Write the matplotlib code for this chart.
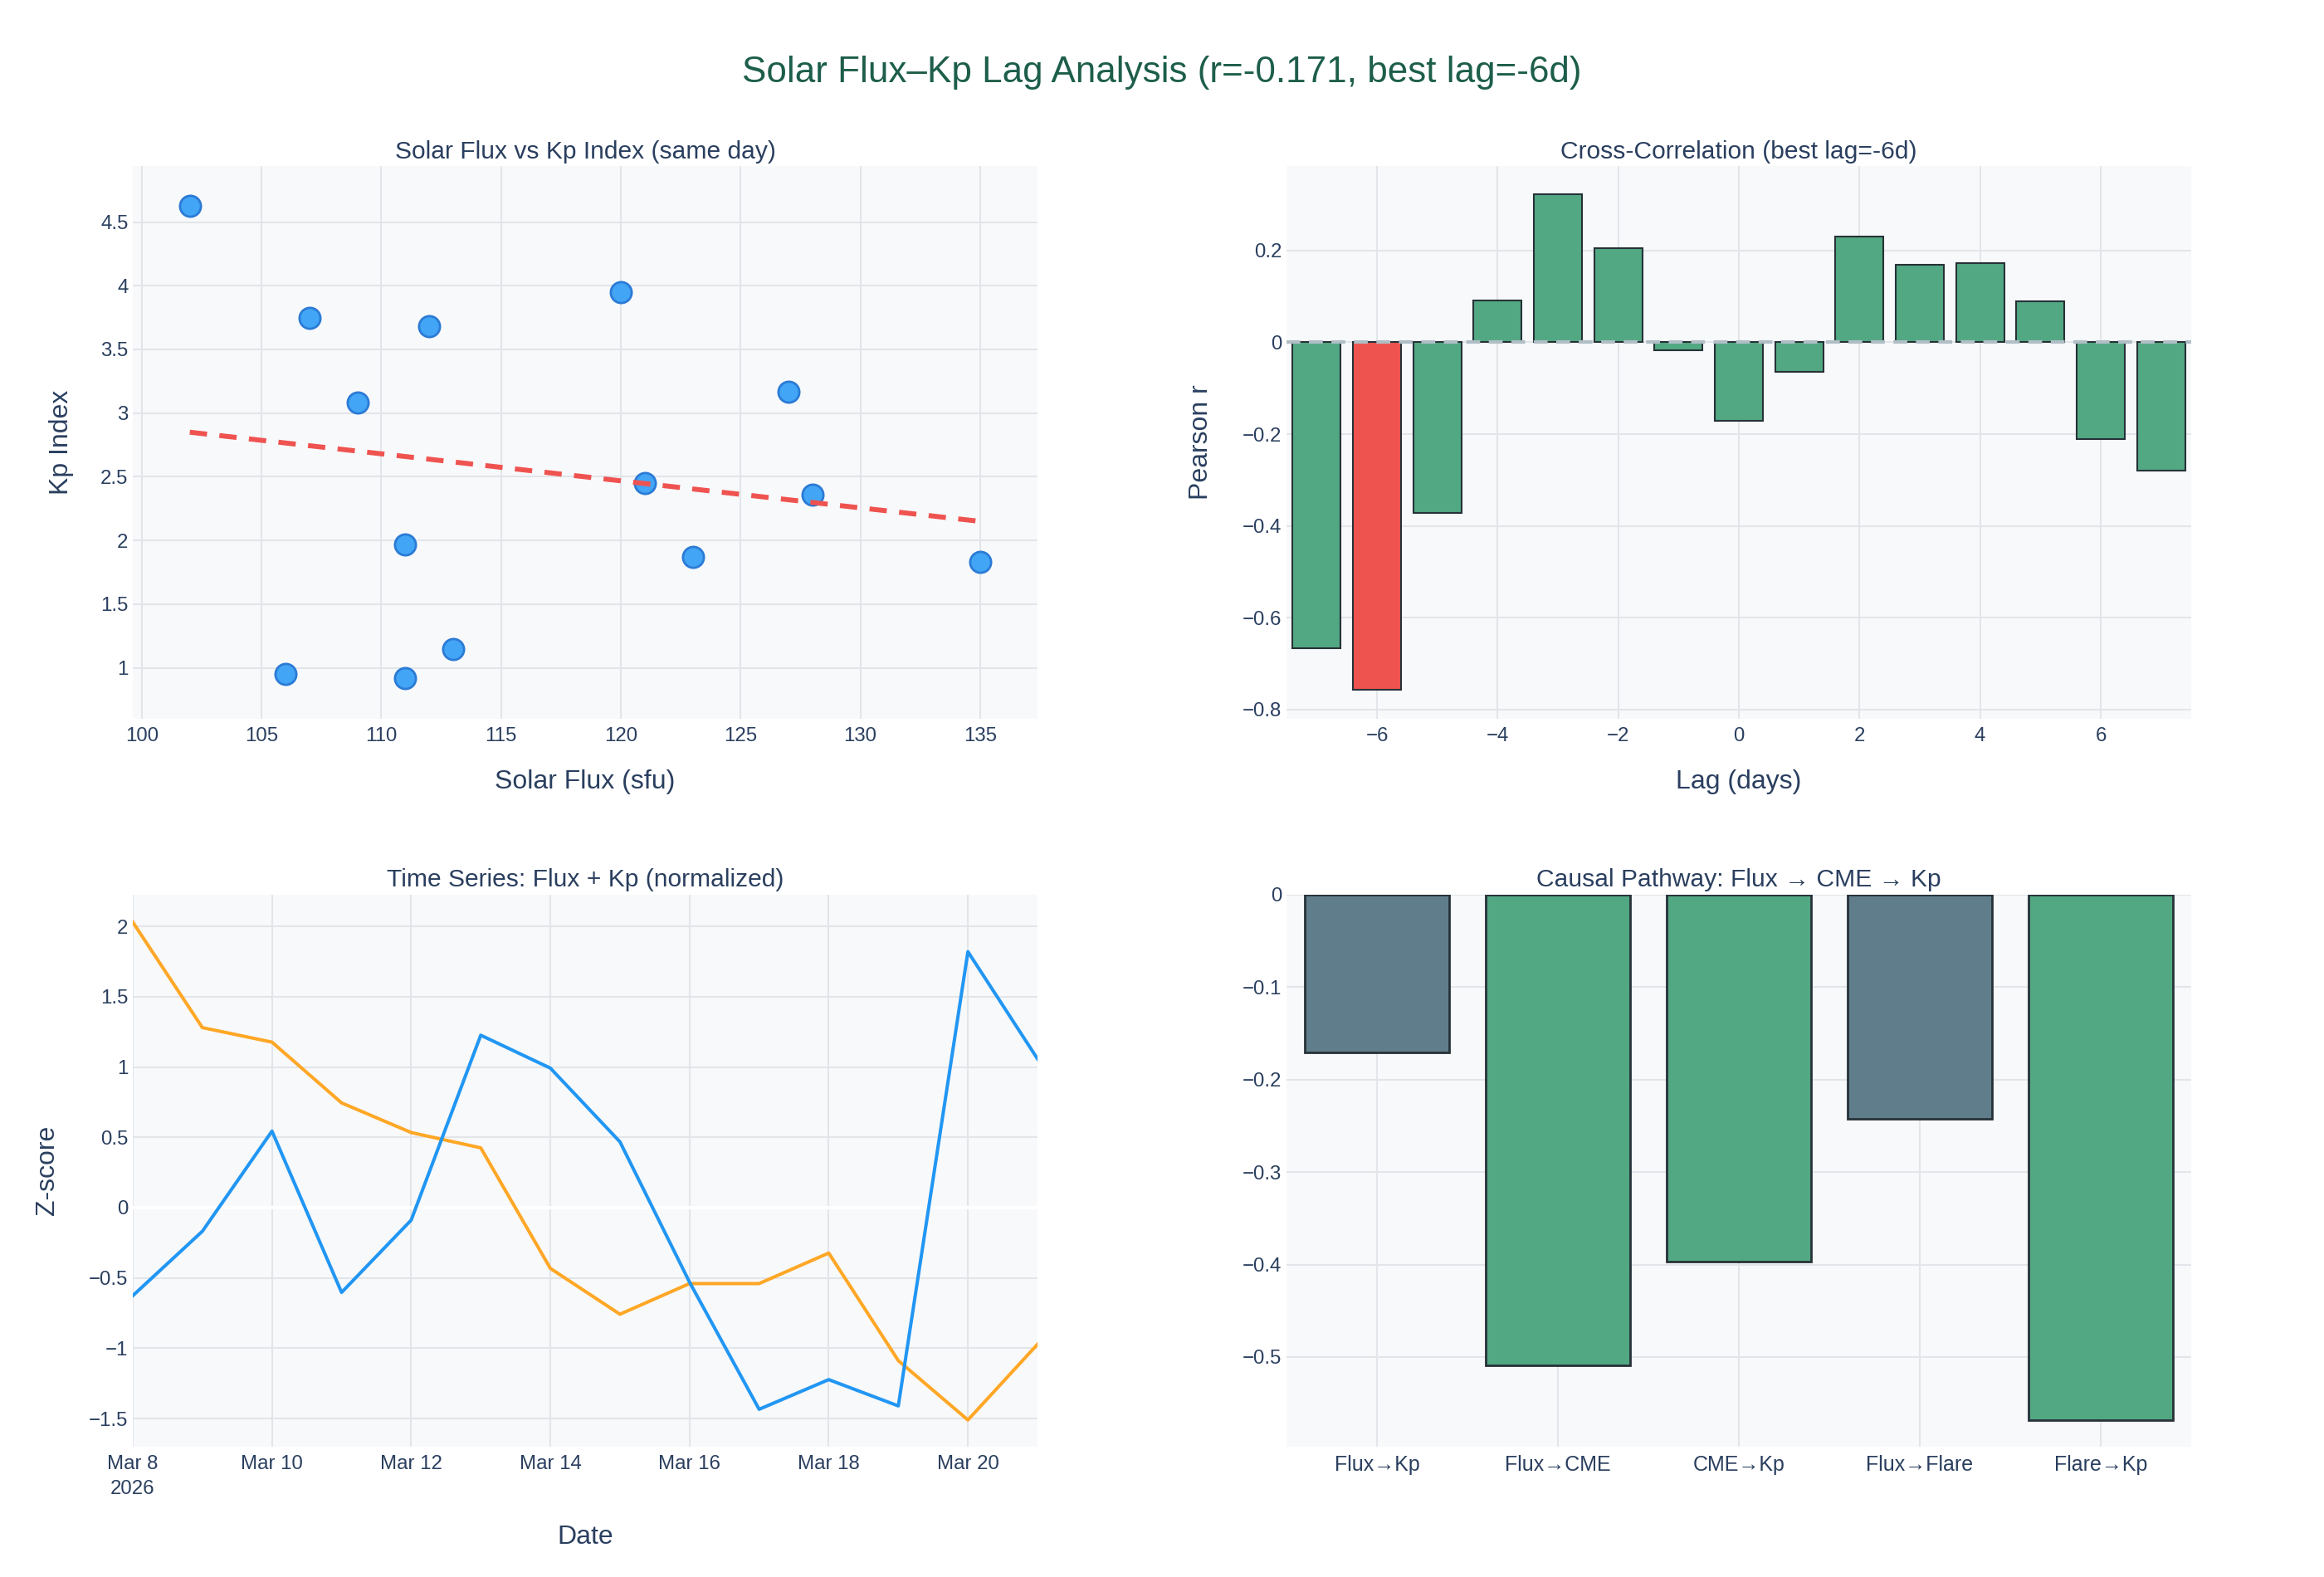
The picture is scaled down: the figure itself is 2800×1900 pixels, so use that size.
import matplotlib
matplotlib.use("Agg")
import matplotlib.pyplot as plt
from matplotlib.ticker import FuncFormatter, MultipleLocator
import numpy as np
import datetime as dt

plt.rcParams['font.family'] = ['Liberation Sans', 'DejaVu Sans']

# ---------------- data ----------------
flux = [102, 107, 109, 112, 111, 106, 111, 113, 120, 121, 123, 127, 128, 135]
kp = [4.63, 3.75, 3.08, 3.68, 1.97, 0.95, 0.92, 1.15, 3.95, 2.45, 1.87, 3.17, 2.36, 1.83]
trend_x = [102, 135]
trend_y = [2.85, 2.15]

lags = [-7, -6, -5, -4, -3, -2, -1, 0, 1, 2, 3, 4, 5, 6, 7]
xcorr = [-0.667, -0.756, -0.371, 0.092, 0.322, 0.205, -0.018, -0.171,
         -0.064, 0.230, 0.168, 0.172, 0.089, -0.211, -0.280]
best_lag = -6

dates = [dt.date(2026, 3, d) for d in range(8, 22)]
flux_z = [2.03, 1.28, 1.177, 0.745, 0.534, 0.425, -0.432, -0.758, -0.54,
          -0.54, -0.323, -1.088, -1.51, -0.972]
kp_z = [-0.626, -0.168, 0.544, -0.603, -0.089, 1.226, 0.992, 0.468, -0.53,
        -1.434, -1.223, -1.41, 1.82, 1.058]
date_tick_labels = ["Mar 8\n2026", "Mar 10", "Mar 12", "Mar 14", "Mar 16", "Mar 18", "Mar 20"]

paths = ["Flux→Kp", "Flux→CME", "CME→Kp", "Flux→Flare", "Flare→Kp"]
path_r = [-0.171, -0.509, -0.397, -0.242, -0.568]
path_colors = ["#607D8B", "#52A882", "#52A882", "#607D8B", "#52A882"]

# ---------------- style ----------------
TXT = "#2A3F5F"
GRID = "#E2E5E9"
BG = "#F8F9FB"
GREEN = "#52A882"
RED = "#EF5350"
EDGE = "#263238"
TICK_FS = 17.3
AX_FS = 23
SUB_FS = 21.6


def fmt(v, pos=None):
    v = round(v, 9)
    if v == 0:
        return "0"
    s = f"{v:.4g}"
    return s.replace("-", "\u2212")


def style(ax):
    ax.set_facecolor(BG)
    for s in ax.spines.values():
        s.set_visible(False)
    ax.grid(True, color=GRID, linewidth=1.5, zorder=0)
    ax.set_axisbelow(True)
    ax.tick_params(length=0, labelsize=TICK_FS, labelcolor=TXT)
    ax.tick_params(axis="y", pad=4)
    ax.tick_params(axis="x", pad=7)
    ax.yaxis.set_major_formatter(FuncFormatter(fmt))


fig = plt.figure(figsize=(28, 19), dpi=100)
fig.patch.set_facecolor("white")

W, H = 1090 / 2800, 666 / 1900
xl, xr = 160 / 2800, 1550 / 2800
yt, yb = 1 - 866 / 1900, 1 - 1743 / 1900

ax1 = fig.add_axes([xl, yt, W, H])
ax2 = fig.add_axes([xr, yt, W, H])
ax3 = fig.add_axes([xl, yb, W, 665 / 1900])
ax4 = fig.add_axes([xr, yb, W, 665 / 1900])
for a in (ax1, ax2, ax3, ax4):
    style(a)

# --- scatter ---
ax1.scatter(flux, kp, s=330, color="#42A5F5", edgecolor="#2B7BD6", linewidth=2, zorder=3)
ax1.plot(trend_x, trend_y, color=RED, linewidth=4.3, linestyle=(0, (3.5, 2.5)), zorder=4)
ax1.set_xlim(99.62, 137.4)
ax1.set_ylim(0.60, 4.94)
ax1.xaxis.set_major_locator(MultipleLocator(5))
ax1.yaxis.set_major_locator(MultipleLocator(0.5))
ax1.xaxis.set_major_formatter(FuncFormatter(fmt))

# --- cross-correlation ---
bar_cols = [RED if l == best_lag else GREEN for l in lags]
ax2.bar(lags, xcorr, width=0.8, color=bar_cols, edgecolor=EDGE, linewidth=1.5, zorder=2)
ax2.axhline(0, color="#B0BEC5", linewidth=3, linestyle=(0, (4, 2.5)), zorder=3)
ax2.set_xlim(-7.5, 7.5)
ax2.set_ylim(-0.82, 0.384)
ax2.set_xticks([-6, -4, -2, 0, 2, 4, 6])
ax2.xaxis.set_major_formatter(FuncFormatter(fmt))
ax2.yaxis.set_major_locator(MultipleLocator(0.2))

# --- time series ---
ax3.axhline(0, color="white", linewidth=3, zorder=1)
ax3.plot(dates, flux_z, color="#FFA726", linewidth=2.9, zorder=3)
ax3.plot(dates, kp_z, color="#2196F3", linewidth=2.9, zorder=3)
ax3.set_xlim(dates[0], dates[-1])
ax3.set_ylim(-1.70, 2.225)
ax3.set_xticks(dates[::2])
ax3.set_xticklabels(date_tick_labels, linespacing=1.5)
ax3.yaxis.set_major_locator(MultipleLocator(0.5))

# --- causal pathway ---
xs = np.arange(len(paths))
ax4.bar(xs, path_r, width=0.8, color=path_colors, edgecolor=EDGE, linewidth=2, zorder=2)
ax4.set_xlim(-0.5, 4.5)
ax4.set_ylim(-0.597, 0)
ax4.set_xticks(xs)
ax4.set_xticklabels(paths, fontsize=18)
ax4.set_yticks([0, -0.1, -0.2, -0.3, -0.4, -0.5])

# ---------------- texts ----------------
fig.text(0.5, 1 - 88 / 1900, "Solar Flux\u2013Kp Lag Analysis (r=-0.171, best lag=-6d)",
         ha="center", va="center", fontsize=31.7, color="#1D5E4B")

cxl = xl + W / 2
cxr = xr + W / 2
fig.text(cxl, 1 - 183 / 1900, "Solar Flux vs Kp Index (same day)", ha="center", va="center",
         fontsize=SUB_FS, color=TXT)
fig.text(cxr, 1 - 183 / 1900, "Cross-Correlation (best lag=-6d)", ha="center", va="center",
         fontsize=SUB_FS, color=TXT)
fig.text(cxl, 1 - 1060 / 1900, "Time Series: Flux + Kp (normalized)", ha="center", va="center",
         fontsize=SUB_FS, color=TXT)
fig.text(cxr, 1 - 1060 / 1900, "Causal Pathway: Flux \u2192 CME \u2192 Kp", ha="center", va="center",
         fontsize=SUB_FS, color=TXT)

fig.text(cxl, 1 - 942 / 1900, "Solar Flux (sfu)", ha="center", va="center", fontsize=AX_FS, color=TXT)
fig.text(cxr, 1 - 942 / 1900, "Lag (days)", ha="center", va="center", fontsize=AX_FS, color=TXT)
fig.text(cxl, 1 - 1852 / 1900, "Date", ha="center", va="center", fontsize=AX_FS, color=TXT)

fig.text(74 / 2800, yt + H / 2, "Kp Index", ha="center", va="center", rotation=90,
         fontsize=AX_FS, color=TXT)
fig.text(1447 / 2800, yt + H / 2, "Pearson r", ha="center", va="center", rotation=90,
         fontsize=AX_FS, color=TXT)
fig.text(57 / 2800, yb + H / 2, "Z-score", ha="center", va="center", rotation=90,
         fontsize=AX_FS, color=TXT)

fig.savefig("out.png", dpi=100, facecolor="white")
